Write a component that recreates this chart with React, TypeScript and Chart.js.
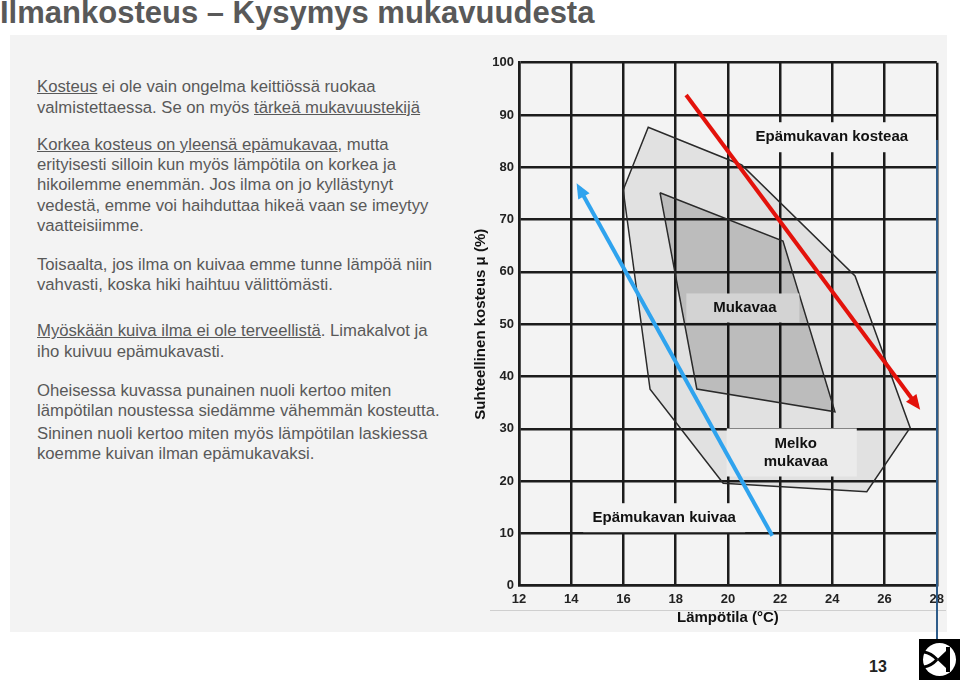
import React, { useEffect, useRef } from 'react';
import { Chart, registerables } from 'chart.js';

Chart.register(...registerables);

// ---- data ----
const xMin = 12;
const xMax = 28;
const xStep = 2;
const yMin = 0;
const yMax = 100;
const yStep = 10;

const outerZoneX = [15.99, 16.95, 20.53, 24.87, 26.98, 25.32, 19.82, 17.02, 15.99];
const outerZoneY = [75.66, 87.65, 80.44, 59.22, 30.21, 17.97, 19.58, 37.55, 75.66];
const innerZoneX = [17.4, 22.11, 24.1, 18.81, 17.4];
const innerZoneY = [75.14, 65.9, 33.27, 37.61, 75.14];
const redArrowX = [18.4, 27.25];
const redArrowY = [93.82, 34.4];
const blueArrowX = [21.7, 14.3];
const blueArrowY = [9.56, 76.1];

const zoneLabels = ['Epämukavan kosteaa', 'Mukavaa', 'Melko\nmukavaa', 'Epämukavan kuivaa'];
const zoneLabelX = [23.98, 20.65, 22.6, 17.56];
const zoneLabelY = [85.75, 53.1, 25.47, 13.0];

const xTitle = 'Lämpötila (°C)';
const yTitle = 'Suhteellinen kosteus μ (%)';
const pageTitle = 'Ilmankosteus – Kysymys mukavuudesta';
const pageNumber = '13';

// ---- styles ----
const FONT = '"Liberation Sans", Arial, Helvetica, sans-serif';
const labelBoxes = [
  { w: 172, h: 30, dx: -1, fill: '#f3f3f3' },
  { w: 113, h: 29, dx: -2, fill: '#d3d3d3' },
  { w: 130, h: 48, dx: -4, fill: '#ebebeb' },
  { w: 162, h: 29, dx: 0, fill: '#f3f3f3' },
];

const pts = (xs: number[], ys: number[]) => xs.map((x, i) => ({ x, y: ys[i] }));

const overlayPlugin = {
  id: 'overlay',
  afterDatasetDraw(chart: any, args: any) {
    // label boxes sit above the zones but below the arrows
    if (args.index !== 2) return;
    const { ctx, scales } = chart;
    const xs = scales.x;
    const ys = scales.y;
    ctx.save();
    zoneLabels.forEach((t, i) => {
      const px = xs.getPixelForValue(zoneLabelX[i]);
      const py = ys.getPixelForValue(zoneLabelY[i]);
      const b = labelBoxes[i];
      ctx.fillStyle = b.fill;
      ctx.fillRect(px - b.w / 2 + b.dx, py - b.h / 2, b.w, b.h);
      ctx.fillStyle = '#111';
      ctx.font = 'bold 15px ' + FONT;
      ctx.textAlign = 'center';
      ctx.textBaseline = 'middle';
      const lines = t.split('\n');
      lines.forEach((ln, j) => ctx.fillText(ln, px, py + (j - (lines.length - 1) / 2) * 18));
    });
    ctx.restore();
  },
  afterDatasetsDraw(chart: any) {
    const { ctx } = chart;
    ctx.save();
    [0, 1].forEach((di) => {
      const meta = chart.getDatasetMeta(di);
      const p0 = meta.data[0];
      const p1 = meta.data[meta.data.length - 1];
      const dx = p1.x - p0.x;
      const dy = p1.y - p0.y;
      const len = Math.hypot(dx, dy);
      const ux = dx / len;
      const uy = dy / len;
      const tipX = p1.x + ux * 5;
      const tipY = p1.y + uy * 5;
      const L = 15;
      const W = 6.5;
      const bx = tipX - ux * L;
      const by = tipY - uy * L;
      ctx.fillStyle = chart.data.datasets[di].borderColor;
      ctx.beginPath();
      ctx.moveTo(tipX, tipY);
      ctx.lineTo(bx - uy * W, by + ux * W);
      ctx.lineTo(bx + uy * W, by - ux * W);
      ctx.closePath();
      ctx.fill();
    });
    ctx.restore();
  },
};

function ChartCanvas() {
  const ref = useRef<HTMLCanvasElement>(null);
  useEffect(() => {
    if (!ref.current) return;
    const chart = new Chart(ref.current, {
      type: 'scatter',
      data: {
        datasets: [
          {
            data: pts(redArrowX, redArrowY),
            showLine: true,
            borderColor: '#e3120b',
            borderWidth: 4,
            pointRadius: 0,
            fill: false,
          },
          {
            data: pts(blueArrowX, blueArrowY),
            showLine: true,
            borderColor: '#2fa3ee',
            borderWidth: 4,
            pointRadius: 0,
            fill: false,
          },
          {
            data: pts(innerZoneX, innerZoneY),
            showLine: true,
            borderColor: '#2a2a2a',
            borderWidth: 1.5,
            backgroundColor: 'rgba(0,0,0,0.17)',
            pointRadius: 0,
            fill: 'shape',
          },
          {
            data: pts(outerZoneX, outerZoneY),
            showLine: true,
            borderColor: '#2a2a2a',
            borderWidth: 1.5,
            backgroundColor: 'rgba(0,0,0,0.07)',
            pointRadius: 0,
            fill: 'shape',
          },
        ] as any,
      },
      options: {
        animation: false,
        responsive: false,
        devicePixelRatio: 1,
        layout: { padding: { top: 22.7, right: 13, left: 0, bottom: 0 } },
        plugins: { legend: { display: false }, tooltip: { enabled: false } },
        scales: {
          x: {
            type: 'linear',
            min: xMin,
            max: xMax,
            afterFit: (s: any) => {
              s.height = 54.3;
            },
            ticks: {
              stepSize: xStep,
              padding: 6,
              color: '#222',
              font: { family: FONT, size: 13, weight: 'bold' },
            },
            grid: { color: '#1c1c1c', lineWidth: 2.5, drawTicks: false },
            border: { color: '#1c1c1c', width: 2.5 },
            title: {
              display: true,
              text: xTitle,
              color: '#111',
              font: { family: FONT, size: 15, weight: 'bold' },
              padding: { top: 0, bottom: 13 },
            },
          },
          y: {
            type: 'linear',
            min: yMin,
            max: yMax,
            afterFit: (s: any) => {
              s.width = 59;
            },
            ticks: {
              stepSize: yStep,
              padding: 5,
              color: '#222',
              font: { family: FONT, size: 13, weight: 'bold' },
            },
            grid: { color: '#1c1c1c', lineWidth: 2.5, drawTicks: false },
            border: { color: '#1c1c1c', width: 2.5 },
            title: {
              display: true,
              text: yTitle,
              color: '#111',
              font: { family: FONT, size: 15, weight: 'bold' },
              padding: { top: 12, bottom: 0 },
            },
          },
        },
      } as any,
      plugins: [overlayPlugin],
    });
    return () => chart.destroy();
  }, []);
  return (
    <canvas
      ref={ref}
      width={490}
      height={600}
      style={{ position: 'absolute', left: 460, top: 40, width: 490, height: 600 }}
    />
  );
}

const txt: React.CSSProperties = {
  position: 'absolute',
  left: 37,
  fontFamily: FONT,
  fontSize: 16.7,
  lineHeight: '20.3px',
  color: '#595959',
  whiteSpace: 'nowrap',
  margin: 0,
};

export default function App() {
  return (
    <div
      style={{
        position: 'fixed',
        left: 0,
        top: 0,
        width: 960,
        height: 682,
        background: '#ffffff',
        overflow: 'hidden',
        fontFamily: FONT,
      }}
    >
      <div
        style={{
          position: 'absolute',
          left: 10,
          top: 35,
          width: 937,
          height: 597,
          background: '#f3f3f3',
        }}
      />
      <div
        style={{
          position: 'absolute',
          left: 0,
          top: -3.3,
          fontFamily: FONT,
          fontWeight: 'bold',
          fontSize: 31,
          lineHeight: '31px',
          color: '#595959',
          whiteSpace: 'nowrap',
        }}
      >
        {pageTitle}
      </div>

      <div style={{ ...txt, top: 77.4 }}>
        <u>Kosteus</u> ei ole vain ongelma keittiössä ruokaa
        <br />
        valmistettaessa. Se on myös <u>tärkeä mukavuustekijä</u>
      </div>
      <div style={{ ...txt, top: 134.8 }}>
        <u>Korkea kosteus on yleensä epämukavaa</u>, mutta
        <br />
        erityisesti silloin kun myös lämpötila on korkea ja
        <br />
        hikoilemme enemmän. Jos ilma on jo kyllästynyt
        <br />
        vedestä, emme voi haihduttaa hikeä vaan se imeytyy
        <br />
        vaatteisiimme.
      </div>
      <div style={{ ...txt, top: 254.8 }}>
        Toisaalta, jos ilma on kuivaa emme tunne lämpöä niin
        <br />
        vahvasti, koska hiki haihtuu välittömästi.
      </div>
      <div style={{ ...txt, top: 321.4 }}>
        <u>Myöskään kuiva ilma ei ole terveellistä</u>. Limakalvot ja
        <br />
        iho kuivuu epämukavasti.
      </div>
      <div style={{ ...txt, top: 380.8 }}>
        Oheisessa kuvassa punainen nuoli kertoo miten
        <br />
        lämpötilan noustessa siedämme vähemmän kosteutta.
      </div>
      <div style={{ ...txt, top: 424.1 }}>
        Sininen nuoli kertoo miten myös lämpötilan laskiessa
        <br />
        koemme kuivan ilman epämukavaksi.
      </div>

      <ChartCanvas />

      <div
        style={{
          position: 'absolute',
          left: 490,
          top: 609.5,
          width: 456,
          height: 1,
          background: '#cfcfcf',
        }}
      />
      <div
        style={{
          position: 'absolute',
          left: 936,
          top: 140,
          width: 1.5,
          height: 515,
          background: '#2e5c8a',
        }}
      />

      <div
        style={{
          position: 'absolute',
          left: 869,
          top: 658.8,
          fontFamily: FONT,
          fontWeight: 'bold',
          fontSize: 16,
          lineHeight: '16px',
          color: '#222',
        }}
      >
        {pageNumber}
      </div>

      <svg
        style={{ position: 'absolute', left: 919, top: 639 }}
        width={41}
        height={41}
        viewBox="0 0 41 41"
      >
        <rect x={0} y={0} width={41} height={41} fill="#000" />
        <circle cx={20.5} cy={20.5} r={16.5} fill="#fff" />
        <path d="M18 20.5 L27 12 L27 29 Z" fill="#000" />
        <rect x={27} y={8} width={4} height={25} fill="#000" />
        <path d="M18 20.5 Q12 14 5 13" stroke="#000" strokeWidth={3} fill="none" />
        <path d="M18 20.5 Q12 27 5 28" stroke="#000" strokeWidth={3} fill="none" />
      </svg>
    </div>
  );
}
